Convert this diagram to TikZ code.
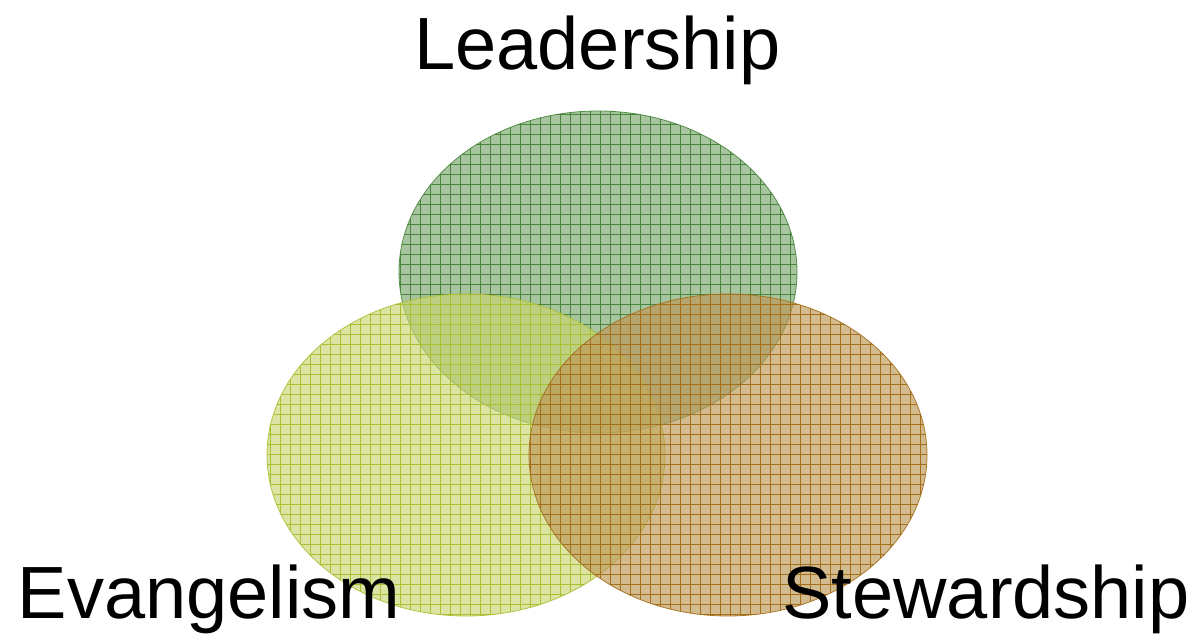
\documentclass[tikz,border=0pt]{standalone}
\usepackage{fontspec}
\setmainfont{Liberation Sans}
\usepackage{xcolor}
\usetikzlibrary{patterns.meta}
\definecolor{leadfill}{RGB}{120,168,108}
\definecolor{leadline}{RGB}{72,132,60}
\definecolor{evanfill}{RGB}{202,214,115}
\definecolor{evanline}{RGB}{172,190,50}
\definecolor{stewfill}{RGB}{188,150,85}
\definecolor{stewline}{RGB}{165,110,25}
\tikzset{
  setcircle/.style={fill=#1fill, fill opacity=.65, draw=#1line, draw opacity=.9, line width=.8pt},
  setgrid/.style={pattern={Hatch[angle=0,distance=10pt,line width=.75pt]}, pattern color=#1line, fill opacity=.65},
  setlabel/.style={anchor=base, inner sep=0pt, font=\fontsize{74}{74}\selectfont}
}

\begin{document}
\begin{tikzpicture}[x=1pt,y=-1pt]
\useasboundingbox (0,0) rectangle (1199,634);
% the three sets
\path [setcircle=lead] (598,272) ellipse [x radius=199, y radius=161];
\path [setgrid=lead] (598,272) ellipse [x radius=199, y radius=161];
\path [setcircle=evan] (466,455) ellipse [x radius=199, y radius=161];
\path [setgrid=evan] (466,455) ellipse [x radius=199, y radius=161];
\path [setcircle=stew] (728,455) ellipse [x radius=199, y radius=161];
\path [setgrid=stew] (728,455) ellipse [x radius=199, y radius=161];
% labels
\node [setlabel] (lead) at (597.5,70) {Leadership};
\node [setlabel] (evan) at (209,618) {Evangelism};
\node [setlabel] (stew) at (986,618) {Stewardship};
\end{tikzpicture}
\end{document}
